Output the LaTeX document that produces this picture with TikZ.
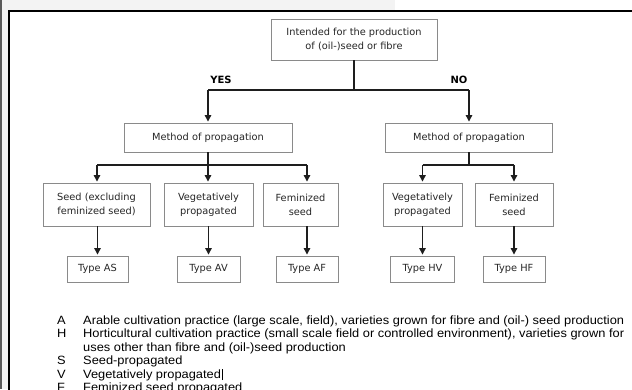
\documentclass[tikz,border=0pt]{standalone}
\usepackage{fontspec}
\setmainfont{DejaVu Sans}
\newfontfamily\legendfont[FakeStretch=1.07]{Liberation Sans}
\usetikzlibrary{arrows.meta,calc}
\definecolor{boxgray}{HTML}{8A8A8A}
\definecolor{linecol}{HTML}{1E1E1E}
\definecolor{stripgray}{HTML}{F3F3F3}
\definecolor{edgegray}{HTML}{5A5A5A}
\tikzset{
  box/.style={draw=boxgray, line width=0.9pt, align=center, inner sep=0pt,
    font=\fontsize{9.8}{14}\selectfont, text=black!85},
  conn/.style={draw=linecol, line width=1.2pt},
  arr/.style={conn, -{Triangle[length=6.5pt,width=6.5pt]}, shorten >=1pt},
  lbl/.style={font=\bfseries\fontsize{10}{12}\selectfont, inner sep=0pt},
  legk/.style={anchor=base west, inner sep=0pt,
    font=\legendfont\fontsize{12}{13.5}\selectfont},
}
\begin{document}
\begin{tikzpicture}[x=1pt,y=-1pt]
\useasboundingbox (0,0) rectangle (632,389);
\clip (0,0) rectangle (632,389);
\fill[white] (0,0) rectangle (632,389);
\fill[stripgray] (0,0) rectangle (395,11);
\fill[stripgray] (0,0) rectangle (9,389);
\fill[edgegray] (0,0) rectangle (2,389);
% outer frame
\draw[line width=2pt] (9,400) -- (9,11) -- (640,11);

% nodes
\node[box, minimum width=166pt, minimum height=41pt] (top) at (354,39.5)
  {Intended for the production\\of (oil-)seed or fibre};
\node[box, minimum width=168pt, minimum height=29pt] (mA) at (208,137.5) {Method of propagation};
\node[box, minimum width=167pt, minimum height=29pt] (mH) at (469,137.5) {Method of propagation};

\node[box, minimum width=107pt, minimum height=43pt] (cAS) at (96.5,204.5) {Seed (excluding\\feminized seed)};
\node[box, minimum width=89pt, minimum height=43pt] (cAV) at (208.5,204.5) {Vegetatively\\propagated};
\node[box, minimum width=75pt, minimum height=43pt] (cAF) at (300.5,204.5) {Feminized\\seed};
\node[box, minimum width=79pt, minimum height=43pt] (cHV) at (422.5,204.5) {Vegetatively\\propagated};
\node[box, minimum width=78pt, minimum height=43pt] (cHF) at (514,204.5) {Feminized\\seed};

\node[box, minimum width=61pt, minimum height=26pt] (tAS) at (97.5,269) {Type AS};
\node[box, minimum width=63pt, minimum height=26pt] (tAV) at (208.5,269) {Type AV};
\node[box, minimum width=62pt, minimum height=26pt] (tAF) at (307,269) {Type AF};
\node[box, minimum width=64pt, minimum height=26pt] (tHV) at (422.5,269) {Type HV};
\node[box, minimum width=62pt, minimum height=26pt] (tHF) at (514,269) {Type HF};

\node[lbl] (yes) at (221,80) {YES};
\node[lbl] (no) at (459,80) {NO};

% junction coordinates
\coordinate (j0) at (354,90);
\coordinate (yesC) at (208,90);
\coordinate (noC) at (469,90);
\coordinate (jA) at (208,165);
\coordinate (bA1) at (97,165);
\coordinate (bA3) at (307,165);
\coordinate (jH) at (469,165);
\coordinate (bH1) at (422.5,165);
\coordinate (bH2) at (514,165);

% connectors
\draw[conn] (top.south) -- (j0);
\draw[conn] (yesC) -- (noC);
\draw[arr] (yesC) -- (yesC |- mA.north);
\draw[arr] (noC) -- (noC |- mH.north);

\draw[conn] (mA.south) -- (jA);
\draw[conn] (bA1) -- (bA3);
\draw[arr] (bA1) -- (bA1 |- cAS.north);
\draw[arr] (jA) -- (jA |- cAV.north);
\draw[arr] (bA3) -- (bA3 |- cAF.north);

\draw[conn] (mH.south) -- (jH);
\draw[conn] (bH1) -- (bH2);
\draw[arr] (bH1) -- (bH1 |- cHV.north);
\draw[arr] (bH2) -- (bH2 |- cHF.north);

\draw[arr] (cAS.south -| tAS.north) -- (tAS.north);
\draw[arr] (cAV.south -| tAV.north) -- (tAV.north);
\draw[arr] (cAF.south -| tAF.north) -- (tAF.north);
\draw[arr] (cHV.south -| tHV.north) -- (tHV.north);
\draw[arr] (cHF.south -| tHF.north) -- (tHF.north);

% legend
\node[legk] (kA) at (57,324) {A};
\node[legk] (dA) at (83,324) {Arable cultivation practice (large scale, field), varieties grown for fibre and (oil-) seed production};
\node[legk] (kH) at (57,337.5) {H};
\node[legk] (dH) at (83,337.5) {Horticultural cultivation practice (small scale field or controlled environment), varieties grown for};
\node[legk] (dH2) at (83,351) {uses other than fibre and (oil-)seed production};
\node[legk] (kS) at (57,364.5) {S};
\node[legk] (dS) at (83,364.5) {Seed-propagated};
\node[legk] (kV) at (57,378) {V};
\node[legk] (dV) at (83,378) {Vegetatively propagated\kern0.8pt\rule[-2pt]{0.7pt}{11pt}};
\node[legk] (kF) at (57,391.5) {F};
\node[legk] (dF) at (83,391.5) {Feminized seed propagated};
\end{tikzpicture}
\end{document}
